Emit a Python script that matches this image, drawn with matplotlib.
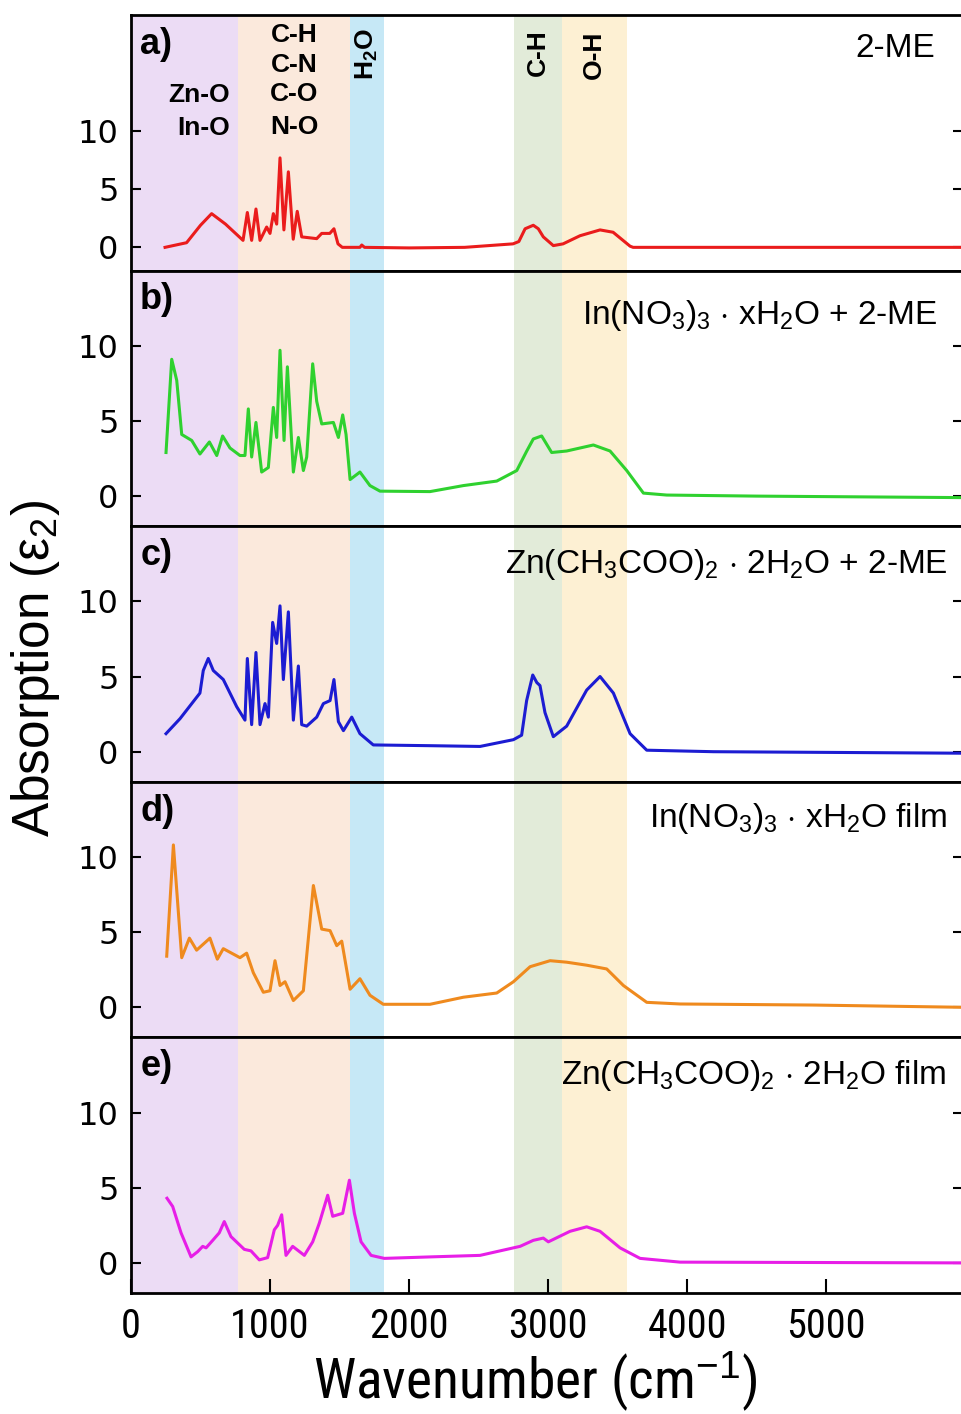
import numpy as np
import matplotlib
matplotlib.use('Agg')
import matplotlib.pyplot as plt
from matplotlib import font_manager

plt.rcParams['font.family'] = ['Liberation Sans', 'DejaVu Sans']
plt.rcParams['mathtext.fontset'] = 'custom'
plt.rcParams['mathtext.rm'] = 'Liberation Sans'
plt.rcParams['mathtext.it'] = 'Liberation Sans'
plt.rcParams['mathtext.bf'] = 'Liberation Sans:bold'

# condensed face for the bottom labels if one is around
installed = {f.name for f in font_manager.fontManager.ttflist}
narrow = ['Liberation Sans', 'DejaVu Sans']
for cand in ['Liberation Sans Narrow', 'Roboto Condensed', 'Open Sans Condensed', 'DejaVu Sans Condensed']:
    if cand in installed:
        narrow = [cand, 'Liberation Sans', 'DejaVu Sans']
        break

# spectra (wavenumber cm-1, eps2)
wn_a = [245, 400, 500, 580, 680, 806, 837, 868, 899, 928, 976, 1000, 1024, 1048, 1072, 1100, 1132,
        1167, 1196, 1228, 1336, 1372, 1430, 1460, 1489, 1520, 1647, 1660, 1680, 2000, 2400, 2748,
        2790, 2835, 2894, 2930, 2966, 3038, 3108, 3230, 3374, 3468, 3590, 3612, 4500, 5985]
eps_a = [0.0, 0.4, 1.9, 2.9, 2.0, 0.6, 3.0, 0.6, 3.3, 0.6, 1.75, 1.2, 2.9, 2.0, 7.7, 1.5, 6.5,
         0.7, 3.1, 0.9, 0.75, 1.2, 1.2, 1.6, 0.3, 0.0, 0.0, 0.2, 0.0, -0.05, 0.0, 0.3,
         0.5, 1.6, 1.9, 1.6, 0.9, 0.15, 0.3, 1.0, 1.5, 1.3, 0.1, 0.0, 0.0, 0.0]

wn_b = [252, 293, 329, 365, 437, 496, 564, 617, 659, 712, 784, 820, 844, 868, 899, 940, 988, 1024,
        1048, 1072, 1101, 1125, 1168, 1204, 1240, 1264, 1307, 1336, 1372, 1456, 1492, 1523, 1547,
        1576, 1647, 1719, 1791, 2151, 2391, 2631, 2775, 2847, 2894, 2954, 3026, 3134, 3326, 3446,
        3566, 3686, 3854, 4500, 5985]
eps_b = [2.9, 9.1, 7.7, 4.1, 3.7, 2.8, 3.6, 2.7, 4.0, 3.2, 2.7, 2.7, 5.8, 2.6, 4.9, 1.6, 1.9, 5.9,
         3.9, 9.7, 3.7, 8.6, 1.6, 3.9, 1.7, 2.6, 8.8, 6.3, 4.8, 4.9, 3.9, 5.4, 4.1,
         1.1, 1.6, 0.7, 0.33, 0.3, 0.7, 1.0, 1.7, 3.0, 3.8, 4.0, 2.9, 3.0, 3.4, 3.0,
         1.7, 0.2, 0.07, 0.0, -0.1]

wn_c = [252, 353, 496, 520, 556, 592, 664, 760, 820, 837, 868, 899, 928, 964, 988, 1019, 1048, 1072,
        1096, 1132, 1168, 1204, 1228, 1264, 1336, 1384, 1432, 1460, 1492, 1528, 1588, 1647, 1743,
        2151, 2511, 2751, 2810, 2846, 2890, 2919, 2942, 2978, 3038, 3134, 3278, 3374, 3470, 3590,
        3710, 4190, 5985]
eps_c = [1.2, 2.2, 3.9, 5.4, 6.2, 5.4, 4.8, 3.0, 2.1, 6.2, 1.8, 6.6, 1.8, 3.2, 2.3, 8.6, 7.2, 9.7,
         4.8, 9.3, 2.1, 5.7, 1.8, 1.7, 2.3, 3.2, 3.4, 4.8, 2.0, 1.4, 2.3, 1.2, 0.45,
         0.4, 0.35, 0.8, 1.1, 3.4, 5.1, 4.6, 4.4, 2.6, 1.0, 1.7, 4.1, 5.0, 3.9, 1.2,
         0.1, 0.0, -0.1]

wn_d = [257, 305, 365, 420, 472, 568, 621, 664, 784, 832, 880, 952, 1000, 1036, 1072, 1108, 1168,
        1240, 1312, 1372, 1432, 1480, 1516, 1576, 1647, 1719, 1815, 2151, 2391, 2631, 2751, 2871,
        3015, 3134, 3278, 3422, 3542, 3710, 3950, 4909, 5985]
eps_d = [3.4, 10.8, 3.3, 4.6, 3.8, 4.6, 3.2, 3.9, 3.3, 3.6, 2.3, 1.0, 1.1, 3.1, 1.45, 1.7, 0.45,
         1.1, 8.1, 5.2, 5.1, 4.1, 4.4, 1.2, 1.9, 0.8, 0.2, 0.2, 0.67, 0.95, 1.7, 2.7,
         3.1, 3.0, 2.8, 2.55, 1.45, 0.33, 0.22, 0.15, 0.0]

wn_e = [259, 300, 360, 432, 480, 516, 540, 588, 635, 671, 719, 815, 863, 923, 983, 1031, 1055,
        1084, 1115, 1163, 1247, 1307, 1355, 1415, 1451, 1523, 1571, 1607, 1655, 1727, 1822, 2158,
        2511, 2799, 2894, 2966, 3002, 3158, 3278, 3374, 3518, 3662, 3950, 5985]
eps_e = [4.3, 3.75, 2.0, 0.4, 0.75, 1.1, 1.0, 1.5, 2.0, 2.75, 1.75, 0.9, 0.8, 0.2, 0.35, 2.2, 2.5,
         3.2, 0.5, 1.1, 0.5, 1.4, 2.65, 4.5, 3.1, 3.3, 5.5, 3.3, 1.4, 0.5, 0.3, 0.4,
         0.5, 1.1, 1.5, 1.65, 1.4, 2.1, 2.4, 2.1, 1.0, 0.3, 0.05, 0.0]

spectra = [(wn_a, eps_a), (wn_b, eps_b), (wn_c, eps_c), (wn_d, eps_d), (wn_e, eps_e)]
colors = ['#ea1c1c', '#2fd12f', '#1c1cd2', '#ef8a1e', '#e71ee7']
panel_tags = ['a)', 'b)', 'c)', 'd)', 'e)']
sample_names = ['2-ME',
                r'In(NO$_3$)$_3$ $\cdot$ xH$_2$O + 2-ME',
                r'Zn(CH$_3$COO)$_2$ $\cdot$ 2H$_2$O + 2-ME',
                r'In(NO$_3$)$_3$ $\cdot$ xH$_2$O film',
                r'Zn(CH$_3$COO)$_2$ $\cdot$ 2H$_2$O film']
name_pos = [(0.967, 0.835), (0.969, 0.792), (0.982, 0.816), (0.981, 0.824), (0.980, 0.816)]

band_edges = [(0, 770), (770, 1575), (1575, 1820), (2755, 3100), (3100, 3570)]
band_colors = ['#ecdcf5', '#fbe9dc', '#c6e8f6', '#e2ebd9', '#fdf0d3']

fig, axes = plt.subplots(5, 1, figsize=(9.61, 14.14), dpi=100, sharex=True)
fig.subplots_adjust(left=0.1363, right=1.0021, top=0.9894, bottom=0.0856, hspace=0)

for i, ax in enumerate(axes):
    for (lo, hi), bc in zip(band_edges, band_colors):
        ax.axvspan(lo, hi, color=bc, lw=0, zorder=0)
    wn, eps = spectra[i]
    ax.plot(wn, eps, color=colors[i], lw=2.2, zorder=3)
    ax.set_xlim(0, 5985)
    if i == 0:
        ax.set_ylim(-2, 20)
    else:
        ax.set_ylim(-2, 15)
    ax.set_yticks([0, 5, 10])
    ax.tick_params(axis='y', direction='in', length=7, width=1.5, right=True, pad=9)
    ax.tick_params(axis='x', direction='in', length=10, width=1.5)
    for lab in ax.get_yticklabels():
        lab.set_family('DejaVu Sans')
        lab.set_fontsize(23)
    for s in ax.spines.values():
        s.set_linewidth(2)
    ax.text(0.011, 0.885, panel_tags[i], transform=ax.transAxes, va='center', ha='left',
            fontsize=26, fontweight='bold')
    ax.text(name_pos[i][0], name_pos[i][1], sample_names[i], transform=ax.transAxes,
            ha='right', va='baseline', fontsize=24)

for ax in axes[:-1]:
    ax.tick_params(axis='x', bottom=False)

axes[-1].set_xticks([0, 1000, 2000, 3000, 4000, 5000])
axes[-1].tick_params(axis='x', labelsize=29, pad=10)
for lab in axes[-1].get_xticklabels():
    lab.set_family(narrow)

# bond assignments in panel a
ax = axes[0]
kw = dict(fontsize=19, fontweight='bold', zorder=4)
ax.text(714, 13.1, 'Zn-O', ha='right', va='center', **kw)
ax.text(714, 10.3, 'In-O', ha='right', va='center', **kw)
for lab, yy in zip(['C-H', 'C-N', 'C-O', 'N-O'], [18.3, 15.7, 13.2, 10.4]):
    ax.text(1173, yy, lab, ha='center', va='center', **kw)
ax.text(1698, 16.6, r'H$_\mathbf{2}$O', rotation=90, ha='center', va='center', **kw)
ax.text(2928, 16.8, 'C-H', rotation=90, ha='center', va='center', **kw)
ax.text(3331, 16.6, 'O-H', rotation=90, ha='center', va='center', **kw)

fig.text(0.037, 0.527, r'Absorption ($\epsilon_2$)', rotation=90, ha='center', va='center',
         fontsize=37)
fig.text(0.557, 0.0, r'Wavenumber (cm$^{-1}$)', ha='center', va='bottom', fontsize=40,
         family=narrow)

plt.savefig('out.png', dpi=100)
